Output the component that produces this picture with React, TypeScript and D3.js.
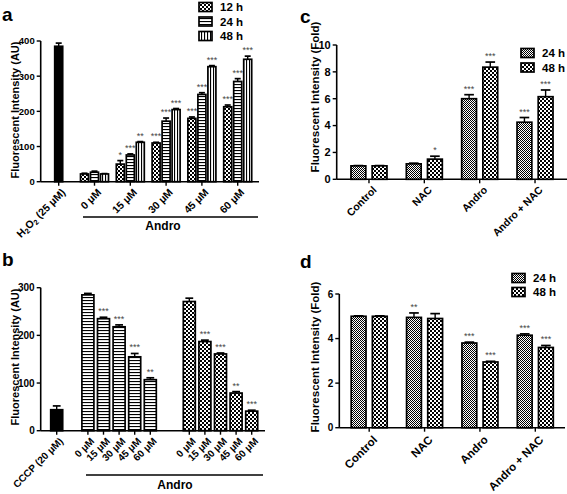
import React from 'react';
import * as d3 from 'd3';

// ---------- Panel a data ----------
const aCategories = ['H2O2', '0 μM', '15 μM', '30 μM', '45 μM', '60 μM'];
const aSeries = ['12 h', '24 h', '48 h'];
const aControl = 385;
const aControlErr = 9;
const a12 = [22, 50, 110, 180, 213];
const a24 = [27, 76, 172, 248, 285];
const a48 = [22, 112, 205, 327, 348];
const a12Err = [2, 10, 2, 4, 5];
const a24Err = [3, 3, 9, 5, 8];
const a48Err = [1, 2, 3, 3, 9];
const a12Stars = ['', '*', '***', '***', '***'];
const a24Stars = ['', '***', '***', '***', '***'];
const a48Stars = ['', '**', '***', '***', '***'];
const aTicks = [0, 100, 200, 300, 400];

// ---------- Panel b data ----------
const bControlLabel = 'CCCP (20 μM)';
const bControl = 44;
const bControlErr = 8;
const bCategories = ['0 μM', '15 μM', '30 μM', '45 μM', '60 μM'];
const bGroup1 = [285, 235, 218, 155, 107];
const bGroup1Err = [3, 3, 4, 7, 4];
const bGroup1Stars = ['', '***', '***', '***', '**'];
const bGroup2 = [271, 187, 161, 79, 41];
const bGroup2Err = [7, 3, 2, 3, 2];
const bGroup2Stars = ['', '***', '***', '**', '***'];
const bTicks = [0, 100, 200, 300];

// ---------- Panels c / d data ----------
const cdCategories = ['Control', 'NAC', 'Andro', 'Andro + NAC'];
const cdSeries = ['24 h', '48 h'];
const c24 = [1, 1.15, 6.0, 4.25];
const c24Err = [0.02, 0.05, 0.3, 0.35];
const c48 = [1, 1.5, 8.35, 6.15];
const c48Err = [0.02, 0.22, 0.38, 0.5];
const c24Stars = ['', '', '***', '***'];
const c48Stars = ['', '*', '***', '***'];
const cTicks = [0, 2, 4, 6, 8, 10];

const d24 = [5.0, 4.95, 3.8, 4.15];
const d24Err = [0.02, 0.2, 0.04, 0.06];
const d48 = [5.0, 4.9, 2.95, 3.6];
const d48Err = [0.02, 0.22, 0.03, 0.09];
const d24Stars = ['', '**', '***', '***'];
const d48Stars = ['', '', '***', '***'];
const dTicks = [0, 2, 4, 6];

const FONT = "'Liberation Sans', Arial, Helvetica, sans-serif";

type BarProps = { cx: number; w: number; y0: number; y: (v: number) => number; v: number; e: number; fill: string; star?: string };

function Bar({ cx, w, y0, y, v, e, fill, star }: BarProps) {
  const top = y(v);
  const et = y(v + e);
  const capW = Math.max(w * 0.65, 6);
  return (
    <g>
      <line x1={cx} x2={cx} y1={top} y2={et} stroke="#000" strokeWidth={1.4} />
      <line x1={cx - capW / 2} x2={cx + capW / 2} y1={et} y2={et} stroke="#000" strokeWidth={1.7} />
      <rect x={cx - w / 2} y={top} width={w} height={y0 - top} fill={fill} stroke="#000" strokeWidth={1.7} />
      {star ? (
        <text x={cx} y={et - 3} textAnchor="middle" fontSize={9} fill="#444" fontFamily={FONT}>{star}</text>
      ) : null}
    </g>
  );
}

function YAxis({ x, y, ticks, fontSize }: { x: number; y: d3.ScaleLinear<number, number>; ticks: number[]; fontSize: number }) {
  const r = y.range();
  return (
    <g>
      <line x1={x} x2={x} y1={r[0]} y2={r[1]} stroke="#000" strokeWidth={1.6} />
      {ticks.map((t) => (
        <g key={t}>
          <line x1={x - 4} x2={x} y1={y(t)} y2={y(t)} stroke="#000" strokeWidth={1.4} />
          <text x={x - 6} y={y(t)} dy="0.35em" textAnchor="end" fontSize={fontSize} fontWeight="bold" fontFamily={FONT}>{t}</text>
        </g>
      ))}
    </g>
  );
}

function XLabel({ x, y, children, fontSize }: { x: number; y: number; children: React.ReactNode; fontSize: number }) {
  return (
    <text transform={`translate(${x},${y}) rotate(-45)`} dy="0.72em" textAnchor="end" fontSize={fontSize} fontWeight="bold" fontFamily={FONT}>{children}</text>
  );
}

function YTitle({ x, y, text, fontSize }: { x: number; y: number; text: string; fontSize: number }) {
  return (
    <text transform={`translate(${x},${y}) rotate(-90)`} textAnchor="middle" dy="0.35em" fontSize={fontSize} fontWeight="bold" fontFamily={FONT}>{text}</text>
  );
}

function LegendRow({ x, y, fill, label }: { x: number; y: number; fill: string; label: string }) {
  return (
    <g>
      <rect x={x} y={y - 4.5} width={13} height={9} fill={fill} stroke="#000" strokeWidth={1.7} />
      <text x={x + 21} y={y} dy="0.35em" fontSize={11.5} fontWeight="bold" fontFamily={FONT}>{label}</text>
    </g>
  );
}

export default function App() {
  // ----- Panel a -----
  const aY = d3.scaleLinear().domain([0, 400]).range([181.7, 41]);
  const aX = d3.scaleBand().domain(aCategories).range([40.8, 255.6]);
  const aSub = d3.scaleBand().domain(aSeries).range([-14, 14]).paddingInner(0.2);
  const aFills = ['url(#chk2)', 'url(#hs)', 'url(#vs)'];
  const aVals = [a12, a24, a48];
  const aErrs = [a12Err, a24Err, a48Err];
  const aStars = [a12Stars, a24Stars, a48Stars];
  const aAxisY = aY(0);

  // ----- Panel b -----
  const bY = d3.scaleLinear().domain([0, 300]).range([430.7, 287.7]);
  const bSlot = d3.scaleLinear().domain([0, 12.5]).range([56.7, 251.7]);
  const bAxisY = bY(0);
  const bG1Slots = bCategories.map((_, i) => 2 + i);
  const bG2Slots = bCategories.map((_, i) => 8.5 + i);

  // ----- Panel c -----
  const cY = d3.scaleLinear().domain([0, 10]).range([179.3, 45]);
  const cX = d3.scaleBand().domain(cdCategories).range([341.3, 562.7]);
  const cdSub = d3.scaleBand().domain(cdSeries).range([-18, 18]).paddingInner(0.3);
  const cAxisY = cY(0);

  // ----- Panel d -----
  const dY = d3.scaleLinear().domain([0, 6]).range([427.7, 294]);
  const dX = d3.scaleBand().domain(cdCategories).range([341.5, 563]);
  const dAxisY = dY(0);

  const cdFills = ['url(#chk1)', 'url(#chk2)'];

  return (
    <svg width={567} height={494} style={{ position: 'absolute', left: 0, top: 0, background: '#fff' }} fontFamily={FONT}>
      <defs>
        <pattern id="chk2" width={4} height={4} patternUnits="userSpaceOnUse">
          <rect width={4} height={4} fill="#fff" />
          <rect width={2} height={2} fill="#000" />
          <rect x={2} y={2} width={2} height={2} fill="#000" />
        </pattern>
        <pattern id="chk1" width={2} height={2} patternUnits="userSpaceOnUse">
          <rect width={2} height={2} fill="#fff" />
          <rect width={1} height={1} fill="#000" />
          <rect x={1} y={1} width={1} height={1} fill="#000" />
        </pattern>
        <pattern id="hs" width={4} height={3} patternUnits="userSpaceOnUse">
          <rect width={4} height={3} fill="#fff" />
          <rect width={4} height={1.1} fill="#000" />
        </pattern>
        <pattern id="vs" width={3} height={4} patternUnits="userSpaceOnUse">
          <rect width={3} height={4} fill="#fff" />
          <rect width={1.1} height={4} fill="#000" />
        </pattern>
      </defs>
      <rect width={567} height={494} fill="#fff" />

      {/* ================= Panel a ================= */}
      <text x={2} y={21} fontSize={19} fontWeight="bold">a</text>
      <YTitle x={15} y={110} text="Fluorescent Intensity (AU)" fontSize={11} />
      <YAxis x={40.7} y={aY} ticks={aTicks} fontSize={9.5} />
      <line x1={40.7} x2={259} y1={aAxisY} y2={aAxisY} stroke="#000" strokeWidth={1.6} />
      {aCategories.map((c) => (
        <line key={c} x1={(aX(c) as number) + aX.bandwidth() / 2} x2={(aX(c) as number) + aX.bandwidth() / 2} y1={aAxisY} y2={aAxisY + 4} stroke="#000" strokeWidth={1.4} />
      ))}
      <Bar cx={(aX('H2O2') as number) + aX.bandwidth() / 2} w={8} y0={aAxisY} y={aY} v={aControl} e={aControlErr} fill="#000" />
      {aCategories.slice(1).map((c, i) => {
        const gc = (aX(c) as number) + aX.bandwidth() / 2;
        return aSeries.map((s, k) => (
          <Bar key={c + s} cx={gc + (aSub(s) as number) + aSub.bandwidth() / 2} w={aSub.bandwidth()} y0={aAxisY} y={aY} v={aVals[k][i]} e={aErrs[k][i]} fill={aFills[k]} star={aStars[k][i]} />
        ));
      })}
      {aCategories.map((c) => {
        const gc = (aX(c) as number) + aX.bandwidth() / 2;
        return (
          <XLabel key={c} x={gc + 2} y={aAxisY + 6} fontSize={10.5}>
            {c === 'H2O2' ? (
              <>
                H<tspan fontSize={7.5} dy={2}>2</tspan><tspan dy={-2}>O</tspan><tspan fontSize={7.5} dy={2}>2</tspan><tspan dy={-2}> (25 μM)</tspan>
              </>
            ) : c}
          </XLabel>
        );
      })}
      <line x1={83} x2={258} y1={217} y2={217} stroke="#000" strokeWidth={1.4} />
      <text x={163} y={230} textAnchor="middle" fontSize={12} fontWeight="bold">Andro</text>
      {aSeries.map((s, k) => (
        <LegendRow key={s} x={199} y={7 + k * 14.5} fill={aFills[k]} label={s} />
      ))}

      {/* ================= Panel b ================= */}
      <text x={2} y={266} fontSize={19} fontWeight="bold">b</text>
      <YTitle x={15} y={357} text="Fluorescent Intensity (AU)" fontSize={11} />
      <YAxis x={40.7} y={bY} ticks={bTicks} fontSize={10} />
      <line x1={40.7} x2={265} y1={bAxisY} y2={bAxisY} stroke="#000" strokeWidth={1.6} />
      {[0, ...bG1Slots, ...bG2Slots].map((s) => (
        <line key={s} x1={bSlot(s)} x2={bSlot(s)} y1={bAxisY} y2={bAxisY + 4} stroke="#000" strokeWidth={1.4} />
      ))}
      <Bar cx={bSlot(0)} w={12} y0={bAxisY} y={bY} v={bControl} e={bControlErr} fill="#000" />
      {bCategories.map((c, i) => (
        <Bar key={'g1' + c} cx={bSlot(bG1Slots[i])} w={12} y0={bAxisY} y={bY} v={bGroup1[i]} e={bGroup1Err[i]} fill="url(#hs)" star={bGroup1Stars[i]} />
      ))}
      {bCategories.map((c, i) => (
        <Bar key={'g2' + c} cx={bSlot(bG2Slots[i])} w={12} y0={bAxisY} y={bY} v={bGroup2[i]} e={bGroup2Err[i]} fill="url(#chk2)" star={bGroup2Stars[i]} />
      ))}
      <XLabel x={bSlot(0) + 2} y={bAxisY + 6} fontSize={10}>{bControlLabel}</XLabel>
      {bCategories.map((c, i) => (
        <XLabel key={'l1' + c} x={bSlot(bG1Slots[i]) + 2} y={bAxisY + 6} fontSize={10}>{c}</XLabel>
      ))}
      {bCategories.map((c, i) => (
        <XLabel key={'l2' + c} x={bSlot(bG2Slots[i]) + 2} y={bAxisY + 6} fontSize={10}>{c}</XLabel>
      ))}
      <line x1={86} x2={263} y1={475} y2={475} stroke="#000" strokeWidth={1.4} />
      <text x={175} y={489} textAnchor="middle" fontSize={12} fontWeight="bold">Andro</text>

      {/* ================= Panel c ================= */}
      <text x={300} y={23} fontSize={19} fontWeight="bold">c</text>
      <YTitle x={315} y={97} text="Fluorescent Intensity (Fold)" fontSize={11.5} />
      <YAxis x={336.7} y={cY} ticks={cTicks} fontSize={11} />
      <line x1={336.7} x2={567} y1={cAxisY} y2={cAxisY} stroke="#000" strokeWidth={1.6} />
      {cdCategories.map((c, i) => {
        const gc = (cX(c) as number) + cX.bandwidth() / 2;
        const vals = [c24, c48];
        const errs = [c24Err, c48Err];
        const stars = [c24Stars, c48Stars];
        return (
          <g key={c}>
            <line x1={gc} x2={gc} y1={cAxisY} y2={cAxisY + 4} stroke="#000" strokeWidth={1.4} />
            {cdSeries.map((s, k) => (
              <Bar key={s} cx={gc + (cdSub(s) as number) + cdSub.bandwidth() / 2} w={cdSub.bandwidth()} y0={cAxisY} y={cY} v={vals[k][i]} e={errs[k][i]} fill={cdFills[k]} star={stars[k][i]} />
            ))}
            <XLabel x={gc + 3} y={cAxisY + 6} fontSize={10.5}>{c}</XLabel>
          </g>
        );
      })}
      {cdSeries.map((s, k) => (
        <LegendRow key={s} x={521} y={53 + k * 14.5} fill={cdFills[k]} label={s} />
      ))}

      {/* ================= Panel d ================= */}
      <text x={300} y={268} fontSize={19} fontWeight="bold">d</text>
      <YTitle x={315} y={357} text="Fluorescent Intensity (Fold)" fontSize={11.5} />
      <YAxis x={339.3} y={dY} ticks={dTicks} fontSize={10} />
      <line x1={339.3} x2={565} y1={dAxisY} y2={dAxisY} stroke="#000" strokeWidth={1.6} />
      {cdCategories.map((c, i) => {
        const gc = (dX(c) as number) + dX.bandwidth() / 2;
        const vals = [d24, d48];
        const errs = [d24Err, d48Err];
        const stars = [d24Stars, d48Stars];
        return (
          <g key={c}>
            <line x1={gc} x2={gc} y1={dAxisY} y2={dAxisY + 4} stroke="#000" strokeWidth={1.4} />
            {cdSeries.map((s, k) => (
              <Bar key={s} cx={gc + (cdSub(s) as number) + cdSub.bandwidth() / 2} w={cdSub.bandwidth()} y0={dAxisY} y={dY} v={vals[k][i]} e={errs[k][i]} fill={cdFills[k]} star={stars[k][i]} />
            ))}
            <XLabel x={gc + 3} y={dAxisY + 7} fontSize={11.5}>{c}</XLabel>
          </g>
        );
      })}
      {cdSeries.map((s, k) => (
        <LegendRow key={s} x={512} y={278 + k * 14} fill={cdFills[k]} label={s} />
      ))}
    </svg>
  );
}
